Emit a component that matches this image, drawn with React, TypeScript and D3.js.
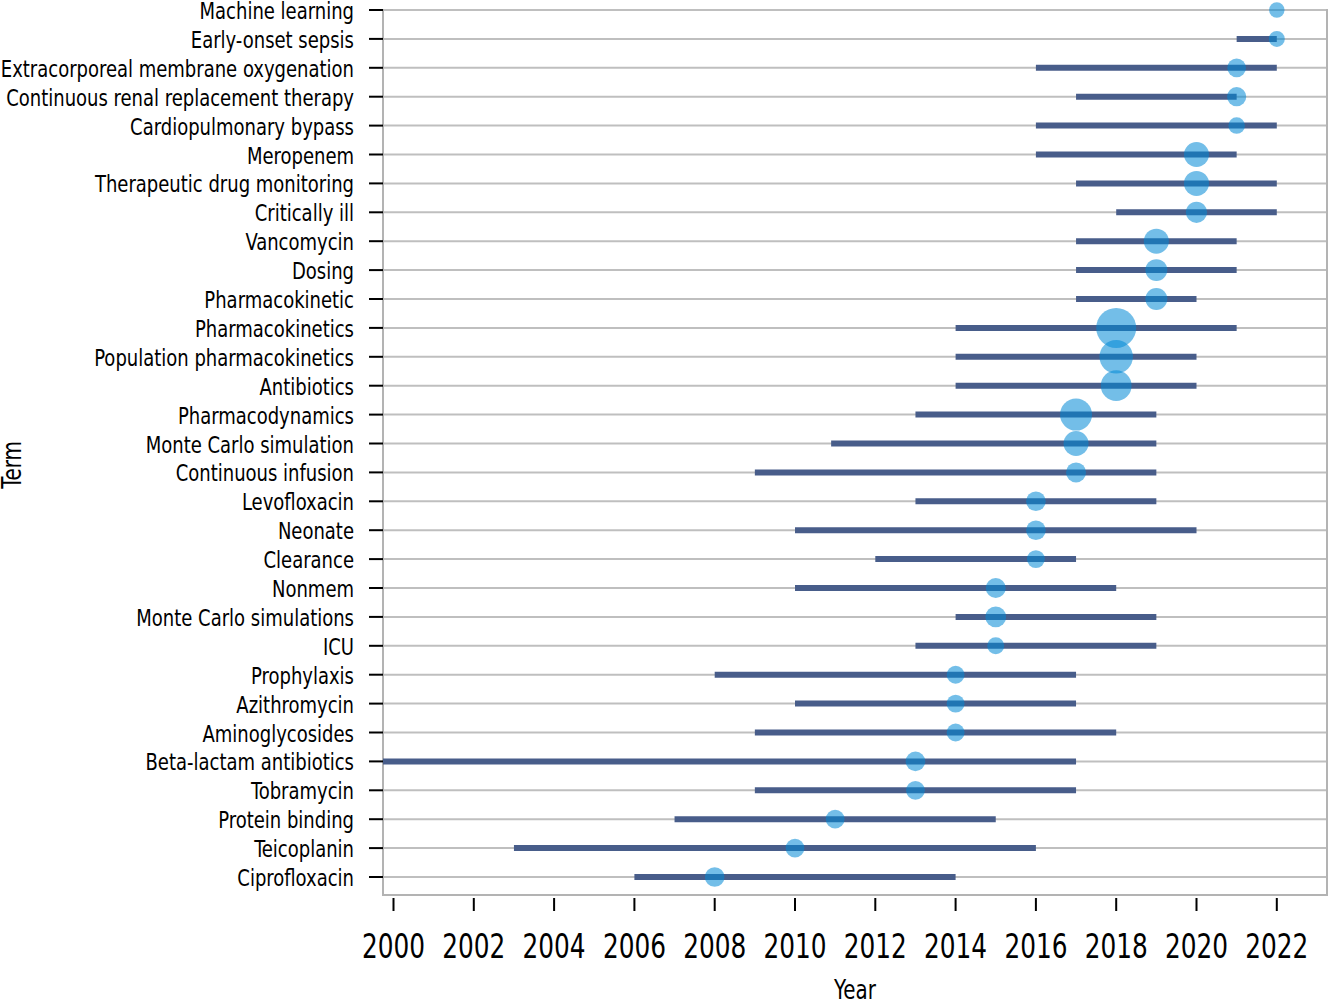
import { useEffect, useRef } from 'react';
import * as d3 from 'd3';

// Terms, top to bottom
const TERMS = [
  'Machine learning',
  'Early-onset sepsis',
  'Extracorporeal membrane oxygenation',
  'Continuous renal replacement therapy',
  'Cardiopulmonary bypass',
  'Meropenem',
  'Therapeutic drug monitoring',
  'Critically ill',
  'Vancomycin',
  'Dosing',
  'Pharmacokinetic',
  'Pharmacokinetics',
  'Population pharmacokinetics',
  'Antibiotics',
  'Pharmacodynamics',
  'Monte Carlo simulation',
  'Continuous infusion',
  'Levofloxacin',
  'Neonate',
  'Clearance',
  'Nonmem',
  'Monte Carlo simulations',
  'ICU',
  'Prophylaxis',
  'Azithromycin',
  'Aminoglycosides',
  'Beta-lactam antibiotics',
  'Tobramycin',
  'Protein binding',
  'Teicoplanin',
  'Ciprofloxacin',
];

// first quartile year, third quartile year, median year, frequency
const START_YEAR = [2022, 2021, 2016, 2017, 2016, 2016, 2017, 2018, 2017, 2017, 2017, 2014, 2014, 2014, 2013, 2010.9, 2009, 2013, 2010, 2012, 2010, 2014, 2013, 2008, 2010, 2009, 1999, 2009, 2007, 2003, 2006];
const END_YEAR = [2022, 2022, 2022, 2021, 2022, 2021, 2022, 2022, 2021, 2021, 2020, 2021, 2020, 2020, 2019, 2019, 2019, 2019, 2020, 2017, 2018, 2019, 2019, 2017, 2017, 2018, 2017, 2017, 2015, 2016, 2014];
const MEDIAN_YEAR = [2022, 2022, 2021, 2021, 2021, 2020, 2020, 2020, 2019, 2019, 2019, 2018, 2018, 2018, 2017, 2017, 2017, 2016, 2016, 2016, 2015, 2015, 2015, 2014, 2014, 2014, 2013, 2013, 2011, 2010, 2008];
const FREQUENCY = [15, 16, 22, 23, 17, 39, 39, 28, 39, 30, 30, 100, 70, 59, 64, 39, 25, 24, 24, 20, 25, 27, 18, 20, 20, 20, 24, 22, 22, 22, 24];

const X_TICKS = [2000, 2002, 2004, 2006, 2008, 2010, 2012, 2014, 2016, 2018, 2020, 2022];

// no condensed humanist face available, so squeeze DejaVu Sans Condensed a bit
const FONT = "'DejaVu Sans Condensed', 'DejaVu Sans', sans-serif";

export default function App() {
  const ref = useRef<SVGSVGElement>(null);

  useEffect(() => {
    if (!ref.current) return;
    const svg = d3.select(ref.current);
    svg.selectAll('*').remove();

    const W = 1330;
    const H = 1004;
    const panel = { left: 383, right: 1327, top: 9, bottom: 895 };

    const x = d3.scaleLinear().domain([2000, 2022]).range([393.5, 1276.8]);
    const y = d3.scalePoint<string>().domain(TERMS).range([10, 877]);
    const r = d3.scaleSqrt().domain([0, 100]).range([0, 20]);

    svg.attr('width', W).attr('height', H);

    const rows = TERMS.map((t, i) => ({
      term: t,
      start: START_YEAR[i],
      end: END_YEAR[i],
      median: MEDIAN_YEAR[i],
      freq: FREQUENCY[i],
    }));

    svg.append('clipPath').attr('id', 'panel-clip')
      .append('rect')
      .attr('x', panel.left).attr('y', 0)
      .attr('width', panel.right - panel.left).attr('height', panel.bottom);

    // Grid lines
    svg.append('g')
      .selectAll('line')
      .data(TERMS)
      .join('line')
      .attr('x1', panel.left).attr('x2', panel.right)
      .attr('y1', d => y(d)!).attr('y2', d => y(d)!)
      .attr('stroke', '#bfbfbf').attr('stroke-width', 2);

    // Panel border
    svg.append('path')
      .attr('d', `M${panel.left},${panel.top}V${panel.bottom}H${panel.right}V${panel.top}`)
      .attr('fill', 'none').attr('stroke', '#b3b3b3').attr('stroke-width', 2);

    const plot = svg.append('g').attr('clip-path', 'url(#panel-clip)');

    // Interquartile bars
    plot.append('g')
      .selectAll('line')
      .data(rows)
      .join('line')
      .attr('x1', d => x(d.start)).attr('x2', d => x(d.end))
      .attr('y1', d => y(d.term)!).attr('y2', d => y(d.term)!)
      .attr('stroke', '#485d8a').attr('stroke-width', 6);

    // Median dots
    plot.append('g')
      .selectAll('circle')
      .data(rows)
      .join('circle')
      .attr('cx', d => x(d.median))
      .attr('cy', d => y(d.term)!)
      .attr('r', d => r(d.freq))
      .attr('fill', '#0088d5').attr('fill-opacity', 0.55);

    // Y axis ticks + labels
    const yAxis = svg.append('g');
    yAxis.selectAll('line')
      .data(TERMS)
      .join('line')
      .attr('x1', 369).attr('x2', panel.left)
      .attr('y1', d => y(d)!).attr('y2', d => y(d)!)
      .attr('stroke', '#000').attr('stroke-width', 2);
    yAxis.selectAll('text')
      .data(TERMS)
      .join('text')
      .attr('transform', d => `translate(354,${y(d)! + 9}) scale(0.87,1)`)
      .attr('text-anchor', 'end')
      .attr('font-family', FONT).attr('font-size', 23).attr('fill', '#000')
      .text(d => d);

    // X axis ticks + labels
    const xAxis = svg.append('g');
    xAxis.selectAll('line')
      .data(X_TICKS)
      .join('line')
      .attr('x1', d => x(d)).attr('x2', d => x(d))
      .attr('y1', 898).attr('y2', 911)
      .attr('stroke', '#000').attr('stroke-width', 2);
    xAxis.selectAll('text')
      .data(X_TICKS)
      .join('text')
      .attr('transform', d => `translate(${x(d)},958) scale(0.81,1)`)
      .attr('text-anchor', 'middle')
      .attr('font-family', FONT).attr('font-size', 34).attr('fill', '#000')
      .text(d => d);

    // Axis titles
    svg.append('text')
      .attr('transform', 'translate(855,999) scale(0.85,1)')
      .attr('text-anchor', 'middle')
      .attr('font-family', FONT).attr('font-size', 26).attr('fill', '#000')
      .text('Year');
    svg.append('text')
      .attr('transform', 'translate(21,465) rotate(-90) scale(0.85,1)')
      .attr('text-anchor', 'middle')
      .attr('font-family', FONT).attr('font-size', 26).attr('fill', '#000')
      .text('Term');
  }, []);

  return (
    <div style={{ position: 'absolute', left: 0, top: 0, background: '#fff' }}>
      <svg ref={ref} style={{ display: 'block' }} />
    </div>
  );
}
